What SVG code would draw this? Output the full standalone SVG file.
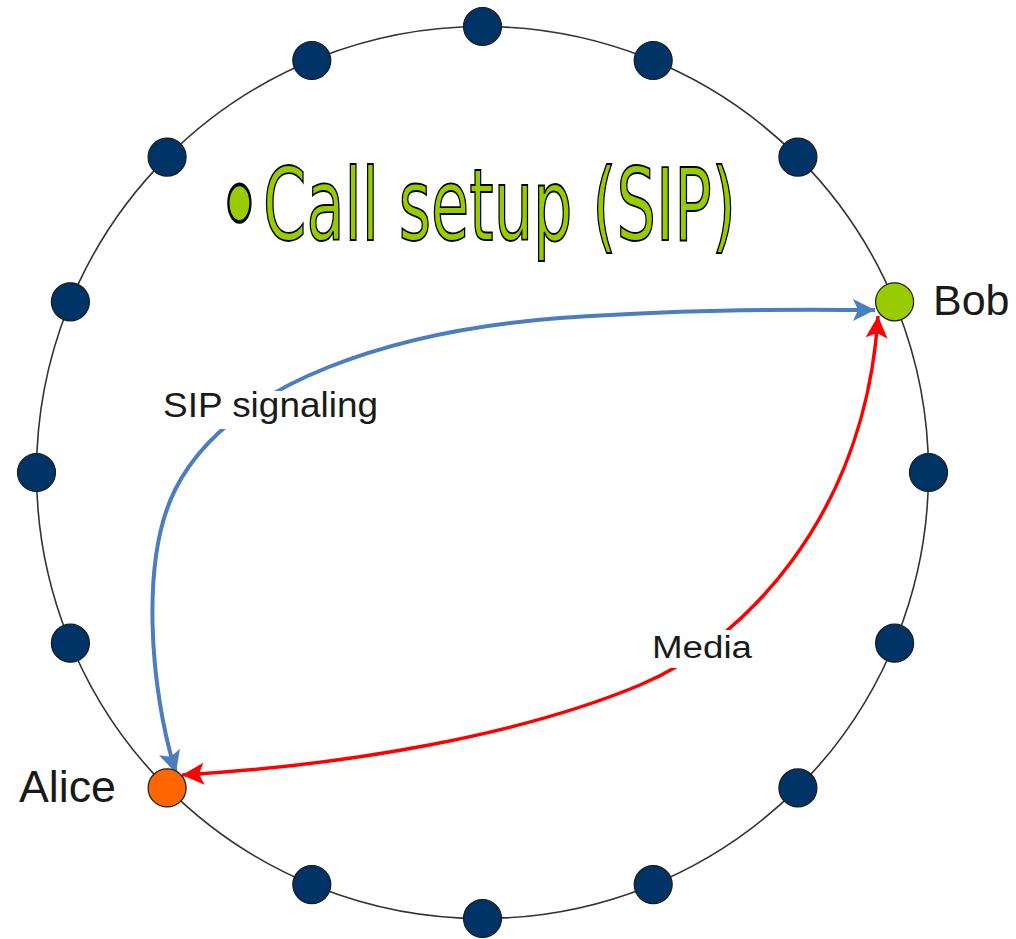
<svg xmlns="http://www.w3.org/2000/svg" width="1016" height="939" viewBox="0 0 1016 939">
<style>
.ring{fill:none;stroke:#333333;stroke-width:1.6}
.peer{fill:#003366;stroke:#1a1a1a;stroke-width:1.2}
.lbl{font-family:"Liberation Sans",Arial,sans-serif;fill:#1a1a1a}
.sig{fill:none;stroke:#4a7ebf;stroke-width:4}
.med{fill:none;stroke:#ff0000;stroke-width:3.5}
.title{font-family:"DejaVu Sans Condensed","DejaVu Sans",Verdana,sans-serif;font-stretch:condensed;fill:#99cc00;stroke:#000000;stroke-width:1.8}
</style>
<defs>
<marker id="ab" markerUnits="userSpaceOnUse" markerWidth="24" markerHeight="24" refX="22" refY="11" orient="auto-start-reverse" viewBox="0 0 24 22">
<path d="M0,0 L22,11 L0,22 L5,11 Z" fill="#4a7ebf"/>
</marker>
<marker id="ar" markerUnits="userSpaceOnUse" markerWidth="24" markerHeight="24" refX="22" refY="11" orient="auto-start-reverse" viewBox="0 0 24 22">
<path d="M0,0 L22,11 L0,22 L5,11 Z" fill="#ff0000"/>
</marker>
</defs>
<rect width="1016" height="939" fill="#ffffff"/>
<circle class="ring" cx="482.5" cy="472.5" r="446"/>
<g id="title">
<text class="title" font-size="65" stroke-width="1.1" transform="translate(217,0) scale(1.3,2)" x="0" y="126">•</text>
<text class="title" x="263" y="240" font-size="100" textLength="473" lengthAdjust="spacingAndGlyphs">Call setup (SIP)</text>
</g>
<g id="connectors">
<path class="sig" d="M176,773 C150,690 140,560 175,490 C230,380 400,330 560,318 C700,308 800,310 875,310" marker-start="url(#ab)" marker-end="url(#ab)"/>
<path class="med" d="M182,775 C350,765 520,735 640,685 C740,643 865,520 878,316" marker-start="url(#ar)" marker-end="url(#ar)"/>
</g>
<g id="label-sip"><rect x="158" y="391" width="226" height="38" fill="#ffffff"/><text class="lbl" x="163" y="417" font-size="35" textLength="215" lengthAdjust="spacingAndGlyphs">SIP signaling</text></g>
<g id="label-media"><rect x="646" y="630" width="112" height="38" fill="#ffffff"/><text class="lbl" x="652" y="658" font-size="31" textLength="100" lengthAdjust="spacingAndGlyphs">Media</text></g>
<g id="n0"><circle class="peer" cx="482.5" cy="26.5" r="19"/></g>
<g id="n1"><circle class="peer" cx="653.2" cy="60.5" r="19"/></g>
<g id="n2"><circle class="peer" cx="797.9" cy="157.1" r="19"/></g>
<g id="bob"><circle cx="894.6" cy="301.8" r="19" fill="#99cc00" stroke="#1a1a1a" stroke-width="1.2"/><text class="lbl" x="933" y="315" font-size="43">Bob</text></g>
<g id="n4"><circle class="peer" cx="928.5" cy="472.5" r="19"/></g>
<g id="n5"><circle class="peer" cx="894.6" cy="643.2" r="19"/></g>
<g id="n6"><circle class="peer" cx="797.9" cy="787.9" r="19"/></g>
<g id="n7"><circle class="peer" cx="653.2" cy="884.6" r="19"/></g>
<g id="n8"><circle class="peer" cx="482.5" cy="918.5" r="19"/></g>
<g id="n9"><circle class="peer" cx="311.8" cy="884.6" r="19"/></g>
<g id="alice"><circle cx="167.1" cy="787.9" r="19" fill="#ff6600" stroke="#1a1a1a" stroke-width="1.2"/><text class="lbl" x="19" y="802" font-size="45" textLength="97" lengthAdjust="spacingAndGlyphs">Alice</text></g>
<g id="n11"><circle class="peer" cx="70.4" cy="643.2" r="19"/></g>
<g id="n12"><circle class="peer" cx="36.5" cy="472.5" r="19"/></g>
<g id="n13"><circle class="peer" cx="70.4" cy="301.8" r="19"/></g>
<g id="n14"><circle class="peer" cx="167.1" cy="157.1" r="19"/></g>
<g id="n15"><circle class="peer" cx="311.8" cy="60.5" r="19"/></g>
</svg>
